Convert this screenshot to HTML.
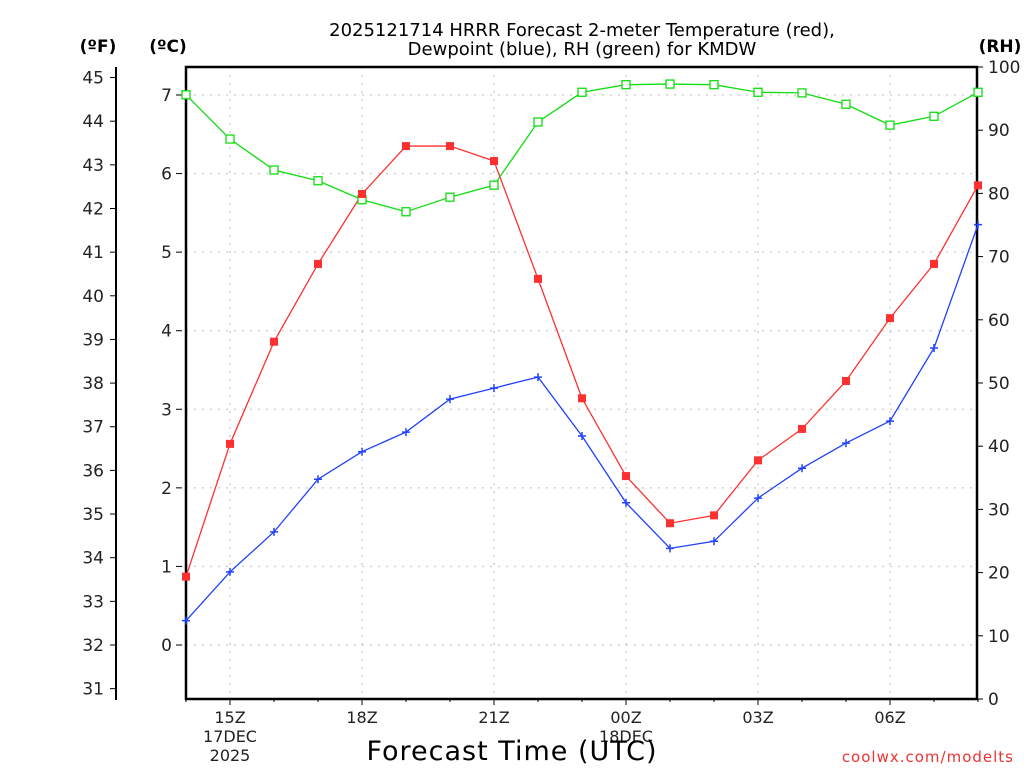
<!DOCTYPE html>
<html><head><meta charset="utf-8"><style>body{margin:0;background:#fff}svg{display:block}text{font-family:"DejaVu Sans","Liberation Sans",sans-serif}</style></head>
<body>
<svg id="c" width="1024" height="768" xmlns="http://www.w3.org/2000/svg"></svg>
<script>
const hours = ["14Z","15Z","16Z","17Z","18Z","19Z","20Z","21Z","22Z","23Z","00Z","01Z","02Z","03Z","04Z","05Z","06Z","07Z","08Z"];
const tempC = [0.87,2.56,3.86,4.85,5.74,6.35,6.35,6.16,4.66,3.14,2.15,1.55,1.65,2.35,2.75,3.36,4.16,4.85,5.85];
const dewC = [0.31,0.93,1.44,2.11,2.46,2.71,3.13,3.27,3.41,2.66,1.81,1.23,1.32,1.87,2.25,2.57,2.85,3.78,5.35];
const rh = [95.6,88.6,83.7,82.0,79.0,77.1,79.4,81.3,91.3,96.0,97.2,97.3,97.2,96.0,95.9,94.1,90.8,92.2,96.0];
const cTicks = [0,1,2,3,4,5,6,7];
const fTicks = [31,32,33,34,35,36,37,38,39,40,41,42,43,44,45];
const rhTicks = [0,10,20,30,40,50,60,70,80,90,100];
const xLabels = [[1,"15Z"],[4,"18Z"],[7,"21Z"],[10,"00Z"],[13,"03Z"],[16,"06Z"]];

const svg=document.getElementById('c');const NS="http://www.w3.org/2000/svg";
function el(t,a,txt){const e=document.createElementNS(NS,t);for(const k in a)e.setAttribute(k,a[k]);if(txt!==undefined)e.textContent=txt;svg.appendChild(e);return e;}
const L=186,R=977,T=67,B=699;
const x=i=>L+i*44;
const yC=c=>645-c*550/7;
const yF=f=>yC((f-32)*5/9);
const yR=r=>699-r*6.32;
// grid
cTicks.forEach(c=>{const g=el('line',{x1:L,x2:R,y1:yC(c),y2:yC(c),stroke:'#bbb','stroke-dasharray':'2,6'});
 const t=el('text',{x:172,y:yC(c)+6,'font-size':17,'text-anchor':'end',fill:'#222'},c);
 el('line',{x1:176,x2:182,y1:yC(c),y2:yC(c),stroke:'#000'});});
xLabels.forEach(([i,s])=>{const g=el('line',{x1:x(i),x2:x(i),y1:T,y2:B,stroke:'#bbb','stroke-dasharray':'2,6'});
 const t=el('text',{x:x(i),y:723,'font-size':16,'text-anchor':'middle',fill:'#222'},s);
 el('line',{x1:x(i),x2:x(i),y1:B,y2:B+6,stroke:'#000'});});
for(let i=0;i<hours.length;i++){el('line',{x1:x(i),x2:x(i),y1:B,y2:B+3,stroke:'#000'});}
let t=el('text',{x:230,y:742,'font-size':16,'text-anchor':'middle',fill:'#222'},'17DEC');
t=el('text',{x:230,y:761,'font-size':16,'text-anchor':'middle',fill:'#222'},'2025');
t=el('text',{x:626,y:742,'font-size':16,'text-anchor':'middle',fill:'#222'},'18DEC');
// F axis
el('line',{x1:116,x2:116,y1:67,y2:700,stroke:'#000','stroke-width':2});
fTicks.forEach(f=>{el('line',{x1:110,x2:116,y1:yF(f),y2:yF(f),stroke:'#000'});
 const t=el('text',{x:104,y:yF(f)+6,'font-size':17,'text-anchor':'end',fill:'#222'},f);});
// RH axis
rhTicks.forEach(r=>{el('line',{x1:R,x2:R+6,y1:yR(r),y2:yR(r),stroke:'#000'});
 const t=el('text',{x:988,y:yR(r)+6,'font-size':17,fill:'#222'},r);});
// frame
const fr=el('rect',{x:L,y:T,width:R-L,height:B-T,fill:'none',stroke:'#000','stroke-width':2.5});
// series
function line(vals,yf,col,name){const p=el('polyline',{points:vals.map((v,i)=>x(i)+','+yf(v)).join(' '),fill:'none',stroke:col,'stroke-width':1.3});}
line(rh,yR,'#11dd11','rh-line');line(tempC,yC,'#ff3030','temperature-line');line(dewC,yC,'#2040ff','dewpoint-line');
rh.forEach((v,i)=>{const m=el('rect',{x:x(i)-4,y:yR(v)-4,width:8,height:8,fill:'#fff',stroke:'#11dd11','stroke-width':1.3});});
tempC.forEach((v,i)=>{const m=el('rect',{x:x(i)-4,y:yC(v)-4,width:8,height:8,fill:'#ff3030'});});
dewC.forEach((v,i)=>{const m=el('path',{d:`M${x(i)-4},${yC(v)}h8M${x(i)},${yC(v)-4}v8`,stroke:'#2040ff','stroke-width':1.5});});
// titles
t=el('text',{x:582,y:36,'font-size':18,'text-anchor':'middle',fill:'#000'},'2025121714 HRRR Forecast 2-meter Temperature (red),');
t=el('text',{x:582,y:55,'font-size':18,'text-anchor':'middle',fill:'#000'},'Dewpoint (blue), RH (green) for KMDW');
t=el('text',{x:98,y:52,'font-size':17,'font-weight':'bold','text-anchor':'middle'},'(ºF)');
t=el('text',{x:168,y:52,'font-size':17,'font-weight':'bold','text-anchor':'middle'},'(ºC)');
t=el('text',{x:1000,y:52,'font-size':17,'font-weight':'bold','text-anchor':'middle'},'(RH)');
t=el('text',{x:512,y:760,'font-size':27,'text-anchor':'middle',fill:'#000','letter-spacing':'1'},'Forecast Time (UTC)');
t=el('text',{x:1014,y:762,'font-size':15,'text-anchor':'end',fill:'#ee3333','letter-spacing':'1'},'coolwx.com/modelts');
</script>
</body></html>
